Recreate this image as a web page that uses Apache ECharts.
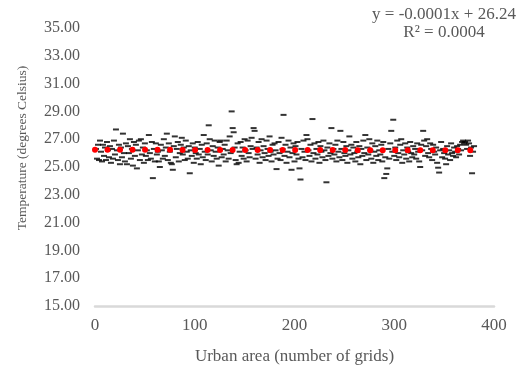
<!DOCTYPE html>
<html>
<head>
<meta charset="utf-8">
<script src="https://cdn.jsdelivr.net/npm/echarts@6/dist/echarts.min.js"></script>
<style>html,body{margin:0;padding:0;background:#fff;}#c{width:523px;height:373px;}</style>
</head>
<body>
<div id="c"></div>
<script>
// Temperature values for urban area = 1..380 grids
const temps = [
26.3,25.6,26.6,25.5,26.9,26.1,25.4,26.6,25.8,26.4,25.5,26.8,26.2,25.7,26.5,25.3,26.3,25.6,26.9,25.9,
27.7,26.2,25.5,26.6,25.2,26.4,25.7,27.4,26.0,25.4,26.7,25.2,26.5,26.0,27.0,25.6,26.3,25.1,26.8,25.8,
26.6,24.9,26.2,26.9,25.5,27.0,25.9,26.4,25.3,26.7,25.8,26.2,25.5,27.3,26.0,25.6,26.8,24.2,26.3,25.4,
26.7,25.9,26.1,25.4,25.0,26.6,26.2,25.6,27.0,25.8,26.4,27.4,25.5,26.7,26.1,25.3,25.2,24.8,26.5,27.2,
25.7,26.3,26.8,25.4,26.0,26.6,27.1,25.9,26.4,25.5,26.9,26.1,25.6,26.5,24.55,26.2,25.8,26.7,25.3,26.4,
26.0,25.6,26.8,25.9,26.3,25.2,26.6,25.7,27.3,26.1,25.5,26.7,25.9,28.0,27.0,26.2,25.4,26.5,25.8,26.9,
26.1,25.6,26.4,25.1,26.8,26.9,25.7,26.3,25.9,26.6,25.4,26.9,26.2,25.6,27.2,26.0,29.0,27.8,27.5,26.4,
25.5,25.2,26.7,25.3,26.1,26.8,25.8,26.4,25.6,27.0,26.2,25.4,26.9,26.0,25.7,26.5,27.1,26.3,27.8,27.6,
25.6,26.4,25.9,26.8,25.3,26.2,27.0,25.7,26.5,26.0,25.5,26.9,26.3,25.8,27.2,26.1,25.4,26.6,25.9,26.7,
26.2,24.85,25.6,26.8,26.0,25.5,27.1,26.3,28.75,25.8,26.6,25.3,26.1,26.9,25.7,26.4,24.8,26.0,26.7,25.4,
26.5,25.9,26.8,25.6,24.9,24.1,26.3,25.7,26.9,26.1,25.5,27.3,27.0,26.2,25.8,26.6,25.4,28.45,26.0,26.7,
25.6,26.3,25.9,26.8,25.3,26.5,26.1,25.7,26.9,26.2,25.5,23.9,26.4,25.8,26.7,26.0,27.8,25.6,26.3,25.9,
26.6,25.4,26.9,26.1,25.7,27.6,26.3,25.5,26.8,26.0,25.8,26.5,25.3,26.2,27.2,25.9,26.6,25.6,26.4,26.0,
25.4,26.8,26.1,25.7,26.5,25.2,26.3,25.8,26.9,26.0,27.3,25.5,26.4,25.9,27.0,26.2,25.6,26.7,25.3,26.1,
26.5,25.8,26.9,25.5,26.2,25.9,26.6,25.4,26.8,24.2,25.7,24.5,24.9,26.3,25.6,26.7,27.6,26.1,28.4,25.8,
26.4,25.5,26.9,26.0,25.7,26.6,27.0,25.3,26.2,25.9,26.7,25.6,26.4,26.1,25.4,26.8,26.0,25.7,26.5,25.9,
26.3,25.6,26.7,26.1,25.4,25.0,26.6,26.2,27.6,26.9,25.8,26.5,27.0,26.0,25.7,26.7,26.3,25.5,26.6,26.1,
25.9,26.4,25.3,24.95,24.6,26.2,26.8,25.7,26.3,26.0,25.6,25.2,26.5,25.9,26.2,25.5,26.7,26.0,25.8,26.4,
26.1,25.7,26.5,26.3,25.9,26.6,26.2,26.8,26.9,26.7,26.8,26.6,26.3,26.9,26.7,25.8,26.4,24.55,26.1,26.5
];
// Linear trend from the chart's equation: y = -0.0001x + 26.24
const trendSlope = -0.0001;
const trendIntercept = 26.24;
const trendX = [0, 378];
const yTicks = [15, 35, 2];
const xTicks = [0, 400, 100];
const eqLines = ['y = -0.0001x + 26.24', 'R² = 0.0004'];
const xTitle = 'Urban area (number of grids)';
const yTitle = 'Temperature (degrees Celsius)';

const points = temps.map((t, i) => [i + 1, t]);
const trend = trendX.map(x => [x, trendSlope * x + trendIntercept]);

const font = '"Liberation Serif", "Times New Roman", serif';
const chart = echarts.init(document.getElementById('c'), null, {renderer: 'canvas'});
chart.setOption({
  animation: false,
  backgroundColor: '#fff',
  grid: {left: 95, right: 29, top: 28, bottom: 67, containLabel: false},
  xAxis: {
    type: 'value', min: xTicks[0], max: xTicks[1], interval: xTicks[2],
    axisLine: {show: true, onZero: false, lineStyle: {color: '#d9d9d9', width: 2.5}},
    axisTick: {show: false},
    splitLine: {show: false},
    axisLabel: {color: '#595959', fontFamily: font, fontSize: 17, margin: 11},
    name: xTitle, nameLocation: 'middle', nameGap: 42,
    nameTextStyle: {color: '#595959', fontFamily: font, fontSize: 17}
  },
  yAxis: {
    type: 'value', min: yTicks[0], max: yTicks[1], interval: yTicks[2],
    axisLine: {show: false}, axisTick: {show: false}, splitLine: {show: false},
    axisLabel: {color: '#595959', fontFamily: font, fontSize: 16, margin: 15,
      formatter: v => v.toFixed(2)}
  },
  graphic: [{
    type: 'text', x: 444, y: 6,
    style: {text: eqLines.join('\n'), font: '17px ' + font, fill: '#595959',
      align: 'center', verticalAlign: 'top', lineHeight: 18}
  }, {
    type: 'text', x: 22, y: 148, rotation: Math.PI / 2,
    style: {text: yTitle, font: '13.5px ' + font, fill: '#595959',
      align: 'center', verticalAlign: 'middle'}
  }],
  series: [{
    type: 'scatter', data: points, symbol: 'rect', symbolSize: [6, 2],
    itemStyle: {color: '#000'}, z: 2
  }, {
    type: 'line', data: trend, symbol: 'none', z: 3,
    lineStyle: {color: '#ff0000', width: 6, type: [0.01, 12.5], cap: 'round'}
  }]
});
</script>
</body>
</html>
